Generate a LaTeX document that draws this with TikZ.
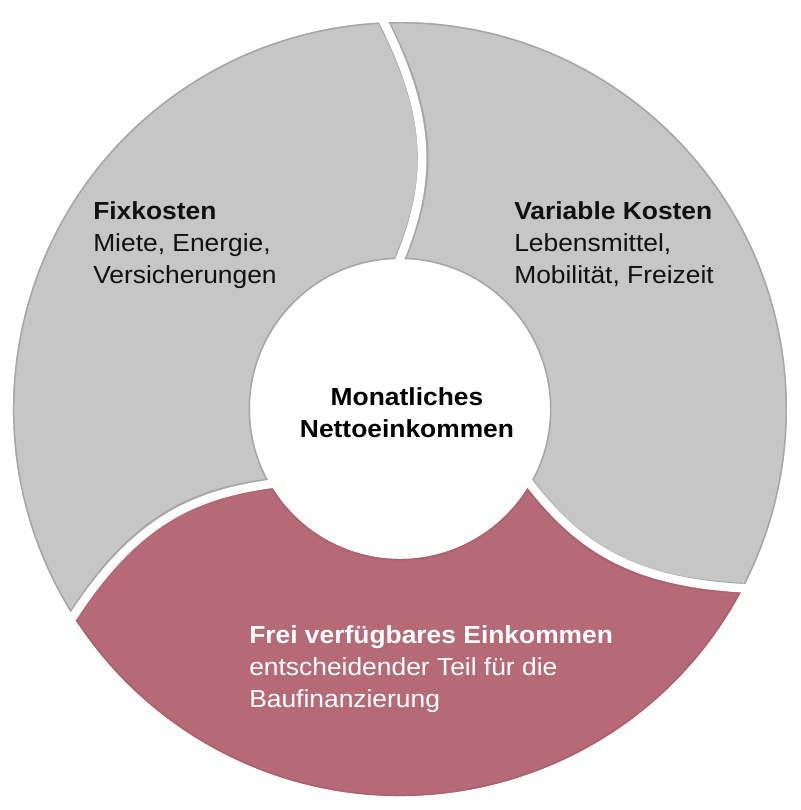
\documentclass[tikz,border=0pt]{standalone}
\usepackage{fontspec}
\setmainfont{Liberation Sans}[FakeStretch=1.07]
\usepackage{xcolor}
\usepackage{tikz}
\usetikzlibrary{positioning,calc}

\definecolor{segGray}{HTML}{C6C6C6}
\definecolor{rimGray}{HTML}{A6A6A6}
\definecolor{segRed}{HTML}{B56A76}
\definecolor{rimRed}{HTML}{AD6170}
\definecolor{txtDark}{HTML}{111111}

% one ring segment, the others are rotated copies
\newcommand{\segpath}{(92.4:387) arc[start angle=92.4, end angle=-27.6, radius=387]
  .. controls (-36.69:292) and (-38.09:227.3) .. (-30:150)
  arc[start angle=-30, end angle=90, radius=150]
  .. controls (81.91:227.3) and (83.31:292) .. (92.4:387) -- cycle}

\begin{document}
\begin{tikzpicture}[x=0.75pt, y=0.75pt,
    lbl/.style={align=left, anchor=base west, inner sep=0pt, font=\fontsize{18.5}{24}\selectfont},
    gap/.style={white, line width=6.4pt, shorten <=-6pt, shorten >=-6pt},
    rim/.style={line width=8.3pt}]
    \useasboundingbox (-400,-401) rectangle (400,409);

    \foreach \rot/\segcol/\rimcol in {120/segGray/rimGray, 0/segGray/rimGray, -120/segRed/rimRed}{
        \begin{scope}[rotate=\rot]
            \fill[\segcol] \segpath;
            \begin{scope}
                \clip \segpath;
                \draw[\rimcol, line width=2.2pt] \segpath;
                \draw[\rimcol, rim] (90:150) .. controls (81.91:227.3) and (83.31:292) .. (92.4:387);
                \draw[\rimcol, rim] (-30:150) .. controls (-38.09:227.3) and (-36.69:292) .. (-27.6:387);
            \end{scope}
        \end{scope}
    }
    % white gaps between the segments
    \foreach \rot in {0,120,-120}
        \draw[gap, rotate=\rot] (90:150) .. controls (81.91:227.3) and (83.31:292) .. (92.4:387);

    % base = baseline of the last line
    \node[lbl, text=txtDark] (fix) at (-307,125) {\textbf{Fixkosten}\\Miete, Energie,\\Versicherungen};
    \node[lbl, text=txtDark] (var) at (114,125) {\textbf{Variable Kosten}\\Lebensmittel,\\Mobilität, Freizeit};
    \node[lbl, text=white] (frei) at (-151,-298) {\textbf{Frei verfügbares Einkommen}\\entscheidender Teil für die\\Baufinanzierung};
    \node[lbl, align=center, anchor=base, text=black] (hub) at (7,-28) {\textbf{Monatliches}\\\textbf{Nettoeinkommen}};
\end{tikzpicture}
\end{document}
